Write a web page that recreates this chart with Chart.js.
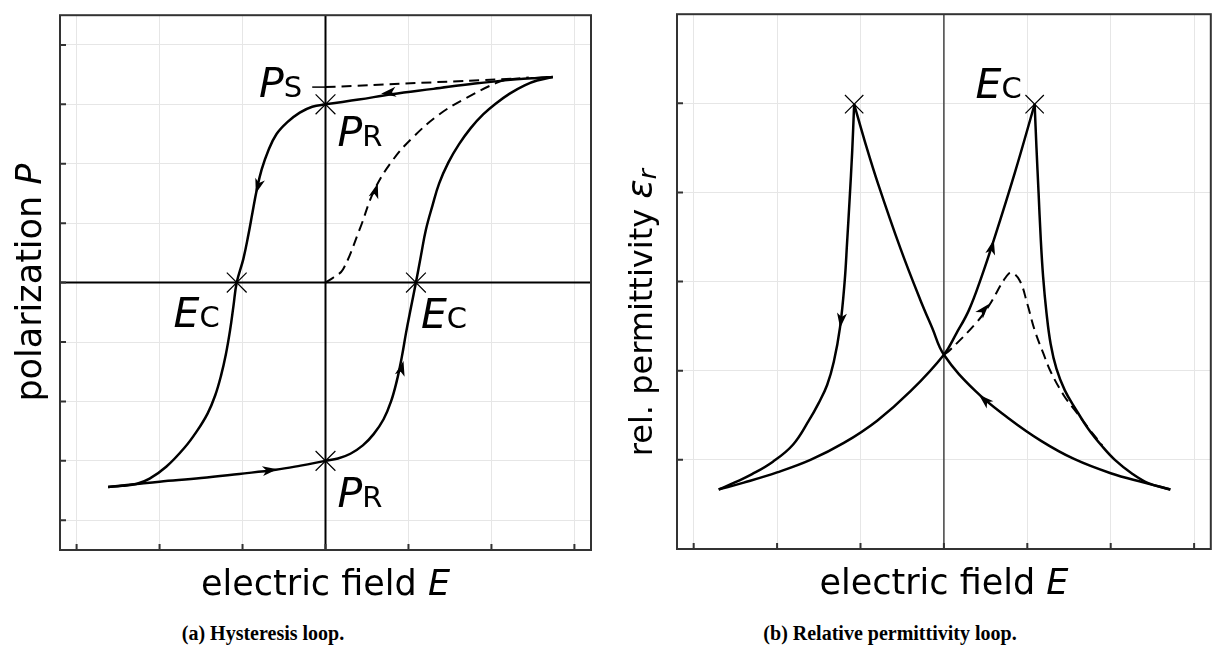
<!DOCTYPE html>
<html>
<head>
<meta charset="utf-8">
<script src="https://cdn.jsdelivr.net/npm/chart.js@4.4.0/dist/chart.umd.min.js"></script>
<style>
  body { margin: 0; background: #fff; }
  #page { position: relative; width: 1225px; height: 666px; overflow: hidden; background: #fff; }
  .panel { position: absolute; top: 0; }
  .cap { position: absolute; top: 622px; width: 400px; text-align: center;
         font-family: "Liberation Serif", serif; font-weight: bold; font-size: 20px; color: #000; }
</style>
</head>
<body>
<div id="page">
  <canvas id="hyst" class="panel" style="left:0px" width="615" height="600"></canvas>
  <canvas id="perm" class="panel" style="left:615px" width="610" height="600"></canvas>
  <div class="cap" style="left:63px">(a) Hysteresis loop.</div>
  <div class="cap" style="left:690px">(b) Relative permittivity loop.</div>
</div>
<script>
// ---- (a) polarization vs. field ----
const fieldTicks = [-3, -2, -1, 0, 1, 2, 3];
const polTicks = [-4, -3, -2, -1, 0, 1, 2, 3, 4];

// branch swept from +E_max down to -E_max
const downE = [2.74, 2.55, 2.30, 1.80, 1.30, 0.80, 0.40, 0, -0.16, -0.31, -0.46, -0.59, -0.69, -0.77, -0.83, -0.88, -0.93, -0.99, -1.07, -1.11, -1.15, -1.20, -1.26, -1.33, -1.42, -1.55, -1.70, -1.92, -2.12, -2.28, -2.45, -2.62];
const downP = [3.46, 3.445, 3.42, 3.35, 3.26, 3.17, 3.08, 3.00, 2.96, 2.86, 2.70, 2.50, 2.22, 1.90, 1.55, 1.18, 0.80, 0.40, 0, -0.40, -0.80, -1.20, -1.57, -1.90, -2.20, -2.50, -2.78, -3.10, -3.30, -3.39, -3.42, -3.44];

// branch swept from -E_max up to +E_max
const upE = [-2.62, -2.28, -2.00, -1.50, -1.04, -0.60, -0.30, 0, 0.15, 0.30, 0.45, 0.58, 0.70, 0.79, 0.86, 0.92, 0.97, 1.03, 1.09, 1.15, 1.21, 1.29, 1.37, 1.48, 1.61, 1.75, 1.90, 2.05, 2.22, 2.40, 2.55, 2.74];
const upP = [-3.44, -3.39, -3.35, -3.29, -3.22, -3.15, -3.08, -3.00, -2.96, -2.88, -2.74, -2.55, -2.30, -2.00, -1.65, -1.25, -0.85, -0.42, 0, 0.45, 0.89, 1.30, 1.67, 2.02, 2.33, 2.60, 2.83, 3.01, 3.18, 3.32, 3.40, 3.46];

// first (virgin) polarization curve
const virginE = [0, 0.10, 0.21, 0.41, 0.59, 0.81, 1.05, 1.37, 1.70, 2.06, 2.22, 2.45];
const virginP = [0, 0.09, 0.22, 0.89, 1.56, 2.06, 2.44, 2.83, 3.11, 3.36, 3.42, 3.45];

// saturation extrapolation and its tick
const satE = [0, 2.25];
const satP = [3.29, 3.43];
const satTickE = [-0.16, 0];

const hystMarksE = [0, 0, -1.07, 1.09];
const hystMarksP = [3, -3, 0, 0];

// arrowheads: tip E, tip P, tail E, tail P
const hystArrows = [
  [0.67, 3.18, 0.90, 3.22],
  [-0.84, 1.50, -0.78, 1.78],
  [0.63, 1.67, 0.57, 1.39],
  [-0.58, -3.14, -0.80, -3.18],
  [0.94, -1.32, 0.87, -1.70]
];

// ---- (b) permittivity vs. field ----
const permTicks = [1, 2, 3, 4, 5];

// from -E_max up to the right peak
const riseE = [-2.70, -2.40, -2.00, -1.60, -1.20, -0.80, -0.40, 0, 0.15, 0.30, 0.45, 0.60, 0.85, 1.088];
const riseR = [0.668, 0.745, 0.86, 1.00, 1.19, 1.44, 1.77, 2.18, 2.42, 2.68, 3.05, 3.47, 4.22, 4.99];
// right peak down to +E_max
const dropRE = [1.088, 1.11, 1.135, 1.16, 1.19, 1.23, 1.28, 1.35, 1.45, 1.58, 1.73, 1.90, 2.05, 2.25, 2.45, 2.715];
const dropRR = [4.99, 4.50, 4.00, 3.50, 3.05, 2.65, 2.30, 2.02, 1.78, 1.57, 1.35, 1.15, 1.00, 0.85, 0.74, 0.668];
// from +E_max up to the left peak
const backE = [2.715, 2.40, 2.00, 1.56, 1.17, 0.77, 0.38, 0, -0.14, -0.285, -0.52, -0.79, -0.95, -1.076];
const backR = [0.668, 0.745, 0.85, 1.01, 1.21, 1.47, 1.77, 2.18, 2.48, 2.80, 3.37, 4.10, 4.58, 4.99];
// left peak down to -E_max
const dropLE = [-1.076, -1.10, -1.13, -1.16, -1.19, -1.245, -1.32, -1.40, -1.50, -1.62, -1.81, -2.05, -2.30, -2.50, -2.70];
const dropLR = [4.99, 4.45, 3.93, 3.45, 3.00, 2.49, 2.10, 1.84, 1.64, 1.44, 1.17, 0.98, 0.84, 0.75, 0.668];
// first sweep from the unpoled state
const firstE = [0, 0.07, 0.38, 0.54, 0.735, 0.81, 0.91, 1.00, 1.09, 1.19, 1.285, 1.44, 1.56, 1.73, 1.90];
const firstR = [2.18, 2.23, 2.53, 2.73, 3.04, 3.10, 3.01, 2.75, 2.45, 2.20, 1.98, 1.72, 1.57, 1.36, 1.16];

const permMarksE = [-1.076, 1.088];
const permMarksR = [4.99, 4.99];

const permArrows = [
  [-1.244, 2.48, -1.21, 2.74],
  [0.598, 3.47, 0.53, 3.21],
  [0.42, 1.73, 0.62, 1.56],
  [0.54, 2.75, 0.40, 2.60]
];

const FONT = '"DejaVu Sans", sans-serif';

const pts = (xs, ys) => xs.map((x, i) => ({ x: x, y: ys[i] }));

const curve = (xs, ys, dashed) => ({
  data: pts(xs, ys),
  showLine: true,
  borderColor: '#000',
  borderWidth: dashed ? 2 : 2.5,
  borderDash: dashed ? [10, 6] : [],
  tension: 0.4,
  pointRadius: 0,
  fill: false
});

const marks = (xs, ys, r) => ({
  data: pts(xs, ys),
  showLine: false,
  pointStyle: 'crossRot',
  pointRadius: r,
  pointBorderColor: '#000',
  pointBorderWidth: 1.2,
  pointBackgroundColor: 'rgba(0,0,0,0)'
});

const axis = (min, max, ticks) => ({
  type: 'linear',
  min: min,
  max: max,
  border: { display: false },
  grid: { color: '#e6e6e6', lineWidth: 1, drawTicks: false },
  ticks: { display: false },
  afterBuildTicks: (s) => { s.ticks = ticks.map(v => ({ value: v })); }
});

// text made of several runs with their own fonts
function drawRuns(ctx, runs, x, y, align) {
  let w = 0;
  runs.forEach(r => { ctx.font = r.font; w += ctx.measureText(r.t).width; });
  let cx = align === 'center' ? x - w / 2 : (align === 'right' ? x - w : x);
  ctx.textAlign = 'left';
  ctx.textBaseline = 'alphabetic';
  runs.forEach(r => {
    ctx.font = r.font;
    ctx.fillText(r.t, cx, y + (r.dy || 0));
    cx += ctx.measureText(r.t).width;
  });
}

function arrowHead(ctx, sx, sy, a) {
  const x1 = sx.getPixelForValue(a[0]), y1 = sy.getPixelForValue(a[1]);
  const x0 = sx.getPixelForValue(a[2]), y0 = sy.getPixelForValue(a[3]);
  ctx.save();
  ctx.translate(x1, y1);
  ctx.rotate(Math.atan2(y1 - y0, x1 - x0));
  ctx.beginPath();
  ctx.moveTo(0, 0);
  ctx.lineTo(-15, -5);
  ctx.lineTo(-11, 0);
  ctx.lineTo(-15, 5);
  ctx.closePath();
  ctx.fillStyle = '#000';
  ctx.fill();
  ctx.restore();
}

// frame, inward ticks, zero lines, arrows, labels
const decor = {
  id: 'decor',
  beforeDatasetsDraw(chart, args, o) {
    const ctx = chart.ctx, a = chart.chartArea;
    const sx = chart.scales.x, sy = chart.scales.y;
    ctx.save();
    ctx.strokeStyle = o.zeroColor;
    ctx.lineWidth = o.zeroWidth;
    const x0 = sx.getPixelForValue(0);
    ctx.beginPath(); ctx.moveTo(x0, a.top); ctx.lineTo(x0, a.bottom); ctx.stroke();
    if (o.zeroY) {
      const y0 = sy.getPixelForValue(0);
      ctx.beginPath(); ctx.moveTo(a.left, y0); ctx.lineTo(a.right, y0); ctx.stroke();
    }
    ctx.restore();
  },
  afterDatasetsDraw(chart, args, o) {
    const ctx = chart.ctx, a = chart.chartArea;
    const sx = chart.scales.x, sy = chart.scales.y;
    ctx.save();
    ctx.strokeStyle = '#333';
    ctx.lineWidth = 2;
    ctx.strokeRect(a.left, a.top, a.right - a.left, a.bottom - a.top);
    ctx.beginPath();
    sx.ticks.forEach(t => {
      const px = sx.getPixelForValue(t.value);
      ctx.moveTo(px, a.bottom); ctx.lineTo(px, a.bottom - 6);
    });
    sy.ticks.forEach(t => {
      const py = sy.getPixelForValue(t.value);
      ctx.moveTo(a.left, py); ctx.lineTo(a.left + 6, py);
    });
    ctx.stroke();

    o.arrows.forEach(ar => arrowHead(ctx, sx, sy, ar));

    if (o.tick) {
      ctx.strokeStyle = '#000';
      ctx.lineWidth = 1.5;
      ctx.beginPath();
      ctx.moveTo(sx.getPixelForValue(o.tick[0]), sy.getPixelForValue(o.tick[2]));
      ctx.lineTo(sx.getPixelForValue(o.tick[1]), sy.getPixelForValue(o.tick[2]));
      ctx.stroke();
    }

    ctx.fillStyle = '#000';
    o.labels.forEach(l => {
      drawRuns(ctx, [
        { t: l.main, font: 'italic 41px ' + FONT },
        { t: l.sub, font: '29px ' + FONT }
      ], sx.getPixelForValue(l.x) + l.dx, sy.getPixelForValue(l.y) + l.dy, l.align);
    });

    // axis titles
    drawRuns(ctx, o.xTitle, (a.left + a.right) / 2, a.bottom + 45, 'center');
    ctx.save();
    ctx.translate(a.left + o.yTitleDx, (a.top + a.bottom) / 2 + o.yTitleDy);
    ctx.rotate(-Math.PI / 2);
    drawRuns(ctx, o.yTitle, 0, 0, 'center');
    ctx.restore();
    ctx.restore();
  }
};

const xTitle = [
  { t: 'electric field ', font: '35px ' + FONT },
  { t: 'E', font: 'italic 35px ' + FONT }
];

new Chart(document.getElementById('hyst'), {
  type: 'scatter',
  data: {
    datasets: [
      curve(downE, downP, false),
      curve(upE, upP, false),
      curve(virginE, virginP, true),
      curve(satE, satP, true),
      marks(hystMarksE, hystMarksP, 14)
    ]
  },
  options: {
    responsive: false,
    animation: false,
    layout: { padding: { left: 60, top: 10, right: 24, bottom: 50 } },
    scales: { x: axis(-3.2, 3.2, fieldTicks), y: axis(-4.5, 4.5, polTicks) },
    plugins: {
      legend: { display: false },
      tooltip: { enabled: false },
      decor: {
        zeroColor: '#000', zeroWidth: 2, zeroY: true,
        arrows: hystArrows,
        tick: [satTickE[0], satTickE[1], satP[0]],
        labels: [
          { main: 'P', sub: 'S', x: satTickE[0], y: satP[0], dx: -10, dy: 10, align: 'right' },
          { main: 'P', sub: 'R', x: hystMarksE[0], y: hystMarksP[0], dx: 12, dy: 42, align: 'left' },
          { main: 'P', sub: 'R', x: hystMarksE[1], y: hystMarksP[1], dx: 12, dy: 46, align: 'left' },
          { main: 'E', sub: 'C', x: hystMarksE[2], y: hystMarksP[2], dx: -17, dy: 44, align: 'right' },
          { main: 'E', sub: 'C', x: hystMarksE[3], y: hystMarksP[3], dx: 5, dy: 45, align: 'left' }
        ],
        xTitle: xTitle,
        yTitle: [
          { t: 'polarization ', font: '35px ' + FONT },
          { t: 'P', font: 'italic 35px ' + FONT }
        ],
        yTitleDx: -19, yTitleDy: 0
      }
    }
  },
  plugins: [decor]
});

new Chart(document.getElementById('perm'), {
  type: 'scatter',
  data: {
    datasets: [
      curve(riseE, riseR, false),
      curve(dropRE, dropRR, false),
      curve(backE, backR, false),
      curve(dropLE, dropLR, false),
      curve(firstE, firstR, true),
      marks(permMarksE, permMarksR, 13)
    ]
  },
  options: {
    responsive: false,
    animation: false,
    layout: { padding: { left: 62, top: 6, right: 5, bottom: 51 } },
    scales: { x: axis(-3.2, 3.2, fieldTicks), y: axis(0, 6, permTicks) },
    plugins: {
      legend: { display: false },
      tooltip: { enabled: false },
      decor: {
        zeroColor: '#444', zeroWidth: 1.5, zeroY: false,
        arrows: permArrows,
        tick: null,
        labels: [
          { main: 'E', sub: 'C', x: permMarksE[1], y: permMarksR[1], dx: -13, dy: -6, align: 'right' }
        ],
        xTitle: xTitle,
        yTitle: [
          { t: 'rel. permittivity ', font: '32px ' + FONT },
          { t: 'ε', font: 'italic 36px ' + FONT },
          { t: 'r', font: 'italic 25px ' + FONT, dy: 4 }
        ],
        yTitleDx: -25, yTitleDy: 31
      }
    }
  },
  plugins: [decor]
});
</script>
</body>
</html>
